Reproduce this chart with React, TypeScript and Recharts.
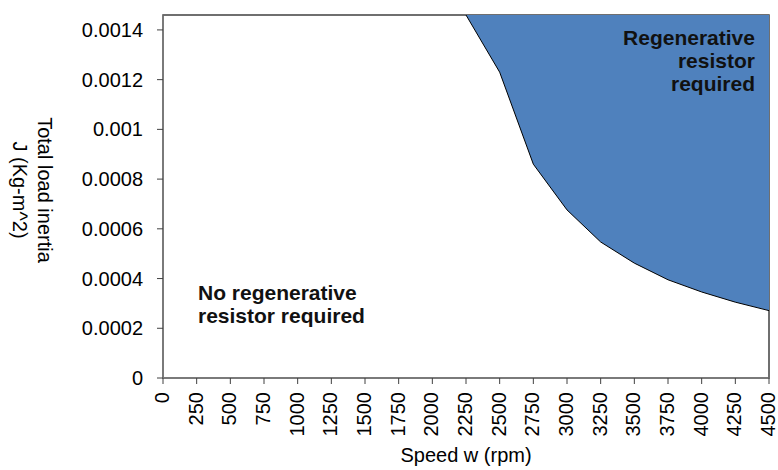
import React from 'react';
import {
  ComposedChart,
  Area,
  Line,
  XAxis,
  YAxis,
  ReferenceArea,
  ReferenceDot,
} from 'recharts';

const speeds = [2250, 2500, 2750, 3000, 3250, 3500, 3750, 4000, 4250, 4500];
const inertia = [0.00146, 0.00123, 0.00086, 0.000676, 0.000547, 0.000462, 0.000395, 0.000346, 0.000305, 0.000271];

const xTicks = [0, 250, 500, 750, 1000, 1250, 1500, 1750, 2000, 2250, 2500, 2750, 3000, 3250, 3500, 3750, 4000, 4250, 4500];
const yTicks = [0, 0.0002, 0.0004, 0.0006, 0.0008, 0.001, 0.0012, 0.0014];
const yTickLabels = ['0', '0.0002', '0.0004', '0.0006', '0.0008', '0.001', '0.0012', '0.0014'];

const Y_MAX = 0.00146;
const FONT = "'Liberation Sans', Arial, sans-serif";
const BLUE = '#4F81BD';

const data = speeds.map((w, i) => ({ w, j: inertia[i], range: [inertia[i], Y_MAX] }));

// rotated tick labels, reading bottom to top
const XTick = (props: any) => {
  const { x, y, payload } = props;
  return (
    <text
      x={x}
      y={y}
      transform={`rotate(-90, ${x}, ${y})`}
      textAnchor="end"
      dy="0.3em"
      fontSize={20}
      fontFamily={FONT}
      fill="#000"
    >
      {payload.value}
    </text>
  );
};

const YTitle = () => (
  <text transform="translate(38, 190) rotate(90)" textAnchor="middle" fontSize={20} fontFamily={FONT} fill="#000">
    <tspan x={0} y={0}>Total load inertia</tspan>
    <tspan x={0} y={25}>J (Kg-m^2)</tspan>
  </text>
);

const XTitle = (props: any) => {
  const { viewBox } = props;
  return (
    <text
      x={viewBox.x + viewBox.width / 2}
      y={viewBox.y + 84}
      textAnchor="middle"
      fontSize={20}
      fontFamily={FONT}
      fill="#000"
    >
      Speed w  (rpm)
    </text>
  );
};

const NoRegenLabel = (props: any) => (
  <text x={props.cx} y={props.cy} fontSize={21} fontWeight="bold" fontFamily={FONT} fill="#111">
    <tspan x={props.cx} y={props.cy}>No regenerative</tspan>
    <tspan x={props.cx} y={props.cy + 23}>resistor required</tspan>
  </text>
);

const RegenLabel = (props: any) => (
  <text x={props.cx} y={props.cy} textAnchor="end" fontSize={21} fontWeight="bold" fontFamily={FONT} fill="#111">
    <tspan x={props.cx} y={props.cy}>Regenerative</tspan>
    <tspan x={props.cx} y={props.cy + 23}>resistor</tspan>
    <tspan x={props.cx} y={props.cy + 46}>required</tspan>
  </text>
);

export default function App() {
  return (
    <div style={{ position: 'absolute', left: 0, top: 0, background: '#fff' }}>
      <ComposedChart
        width={778}
        height={470}
        data={data}
        margin={{ top: 15, right: 9, left: 0, bottom: 0 }}
      >
        <ReferenceArea x1={0} x2={4500} y1={0} y2={Y_MAX} fill="none" stroke="#404040" strokeWidth={1.5} />
        <Area
          dataKey="range"
          type="linear"
          stroke="none"
          fill={BLUE}
          fillOpacity={1}
          isAnimationActive={false}
        />
        <Line dataKey="j" type="linear" stroke="#000" strokeWidth={1} dot={false} isAnimationActive={false} />
        <XAxis
          dataKey="w"
          type="number"
          domain={[0, 4500]}
          ticks={xTicks}
          interval={0}
          height={92}
          tickSize={6}
          tickMargin={8}
          axisLine={{ stroke: '#868686' }}
          tickLine={{ stroke: '#404040' }}
          tick={<XTick />}
          label={<XTitle />}
        />
        <YAxis
          type="number"
          domain={[0, Y_MAX]}
          ticks={yTicks}
          interval={0}
          width={163}
          tickSize={6}
          tickMargin={14}
          axisLine={{ stroke: '#868686' }}
          tickLine={{ stroke: '#404040' }}
          tickFormatter={(v: number) => yTickLabels[yTicks.indexOf(v)] ?? String(v)}
          tick={{ fontSize: 20, fontFamily: FONT, fill: '#000' }}
          label={<YTitle />}
        />
        <ReferenceDot x={260} y={0.000314} r={0} shape={<NoRegenLabel />} />
        <ReferenceDot x={4396} y={0.001338} r={0} shape={<RegenLabel />} />
      </ComposedChart>
    </div>
  );
}
